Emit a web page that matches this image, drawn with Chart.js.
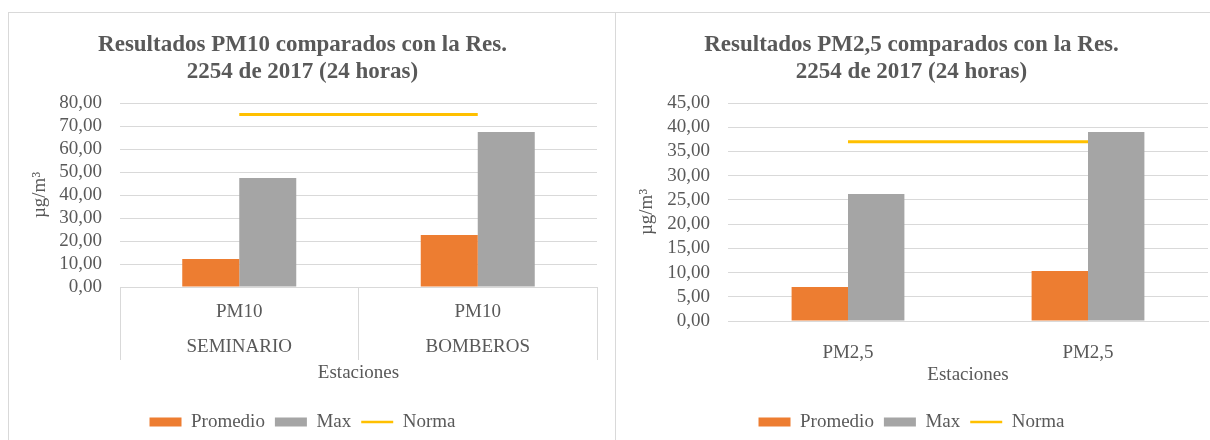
<!DOCTYPE html>
<html>
<head>
<meta charset="utf-8">
<script src="https://cdn.jsdelivr.net/npm/chart.js@4.4.1/dist/chart.umd.min.js"></script>
<style>
  html, body { margin: 0; padding: 0; background: #fff; overflow: hidden; width: 1210px; height: 440px; }
  .panel { position: absolute; top: 12px; height: 500px; border: 1px solid #d9d9d9; box-sizing: border-box; }
  canvas { position: absolute; top: 0; }
</style>
</head>
<body>
<div class="panel" style="left:8px; width:608px;"></div>
<div class="panel" style="left:615px; width:610px;"></div>
<canvas id="chartPM10" width="607" height="450" style="left:8px;"></canvas>
<canvas id="chartPM25" width="595" height="450" style="left:615px;"></canvas>
<script>
// PM10 (estaciones Seminario y Bomberos)
const catsPM10 = [['PM10', 'SEMINARIO'], ['PM10', 'BOMBEROS']];
const promedioPM10 = [12.2, 22.6];
const maxPM10 = [47.4, 67.4];
const normaPM10 = [75, 75];
const ticksPM10 = { max: 80, step: 10 };

// PM2,5
const catsPM25 = ['PM2,5', 'PM2,5'];
const promedioPM25 = [7.0, 10.3];
const maxPM25 = [26.2, 39.0];
const normaPM25 = [37, 37];
const ticksPM25 = { max: 45, step: 5 };

const gray = '#595959';
const serif = "'Liberation Serif', 'Times New Roman', serif";

function makeChart(id, cfg) {
    const ctx = document.getElementById(id).getContext('2d');
    return new Chart(ctx, {
        type: 'bar',
        data: {
            labels: cfg.labels,
            datasets: [{
                label: 'Promedio',
                data: cfg.promedio,
                backgroundColor: '#ED7D31',
                pointStyle: 'rect',
                categoryPercentage: cfg.catPct,
                barPercentage: 1
            }, {
                label: 'Max',
                data: cfg.max,
                backgroundColor: '#A5A5A5',
                pointStyle: 'rect',
                categoryPercentage: cfg.catPct,
                barPercentage: 1
            }, {
                type: 'line',
                label: 'Norma',
                data: cfg.norma,
                borderColor: '#FFC000',
                backgroundColor: '#FFC000',
                borderWidth: 3,
                pointRadius: 0,
                pointStyle: 'line',
                pointBorderColor: '#FFC000',
                pointBackgroundColor: '#FFC000',
                pointBorderWidth: 2.5
            }]
        },
        options: {
            responsive: false,
            animation: false,
            layout: { padding: { left: 0, right: cfg.padRight, top: 0, bottom: 8.5 } },
            plugins: {
                title: {
                    display: true,
                    text: cfg.title,
                    color: gray,
                    font: { size: 23, family: serif, weight: 'bold', lineHeight: 1.174 },
                    padding: { top: 31.5, bottom: 17.5 }
                },
                legend: {
                    position: 'bottom',
                    labels: {
                        usePointStyle: true,
                        pointStyleWidth: 32,
                        boxHeight: 9,
                        padding: 10,
                        color: gray,
                        font: { size: 19, family: serif }
                    }
                },
                tooltip: { enabled: false }
            },
            scales: {
                x: {
                    grid: cfg.xGrid,
                    border: { display: true, color: '#d9d9d9' },
                    ticks: {
                        color: gray,
                        maxRotation: 0,
                        autoSkip: false,
                        padding: cfg.xTickPad,
                        font: { size: 19, family: serif, lineHeight: cfg.xLineHeight }
                    },
                    title: {
                        display: true,
                        text: 'Estaciones',
                        color: gray,
                        font: { size: 19, family: serif },
                        padding: { top: 0, bottom: cfg.xTitlePad }
                    },
                    afterFit: (scale) => { scale.height = cfg.xHeight; }
                },
                y: {
                    min: 0,
                    max: cfg.ticks.max,
                    grid: { color: '#d9d9d9', drawTicks: false },
                    border: { display: false },
                    ticks: {
                        stepSize: cfg.ticks.step,
                        autoSkip: false,
                        padding: 18,
                        color: gray,
                        font: { size: 19, family: serif },
                        callback: (v) => v.toFixed(2).replace('.', ',')
                    },
                    title: {
                        display: true,
                        text: 'µg/m³',
                        color: gray,
                        font: { size: 19, family: serif },
                        padding: { top: 20.6, bottom: 0 }
                    },
                    afterFit: (scale) => { scale.width = cfg.yWidth; }
                }
            }
        }
    });
}

makeChart('chartPM10', {
    labels: catsPM10,
    promedio: promedioPM10,
    max: maxPM10,
    norma: normaPM10,
    ticks: ticksPM10,
    title: ['Resultados PM10 comparados con la Res.', '2254 de 2017 (24 horas)'],
    catPct: 0.478,
    padRight: 18,
    yWidth: 112,
    xHeight: 115.5,
    xTickPad: -65.5,
    xLineHeight: 1.84,
    xTitlePad: 18,
    xGrid: { offset: true, drawOnChartArea: false, drawTicks: true, tickLength: 73, color: '#d9d9d9' }
});

makeChart('chartPM25', {
    labels: catsPM25,
    promedio: promedioPM25,
    max: maxPM25,
    norma: normaPM25,
    ticks: ticksPM25,
    title: ['Resultados PM2,5 comparados con la Res.', '2254 de 2017 (24 horas)'],
    catPct: 0.47,
    padRight: 2,
    yWidth: 113,
    xHeight: 81.5,
    xTickPad: 12.6,
    xLineHeight: 1.2,
    xTitlePad: 16,
    xGrid: { display: false }
});
</script>
</body>
</html>
